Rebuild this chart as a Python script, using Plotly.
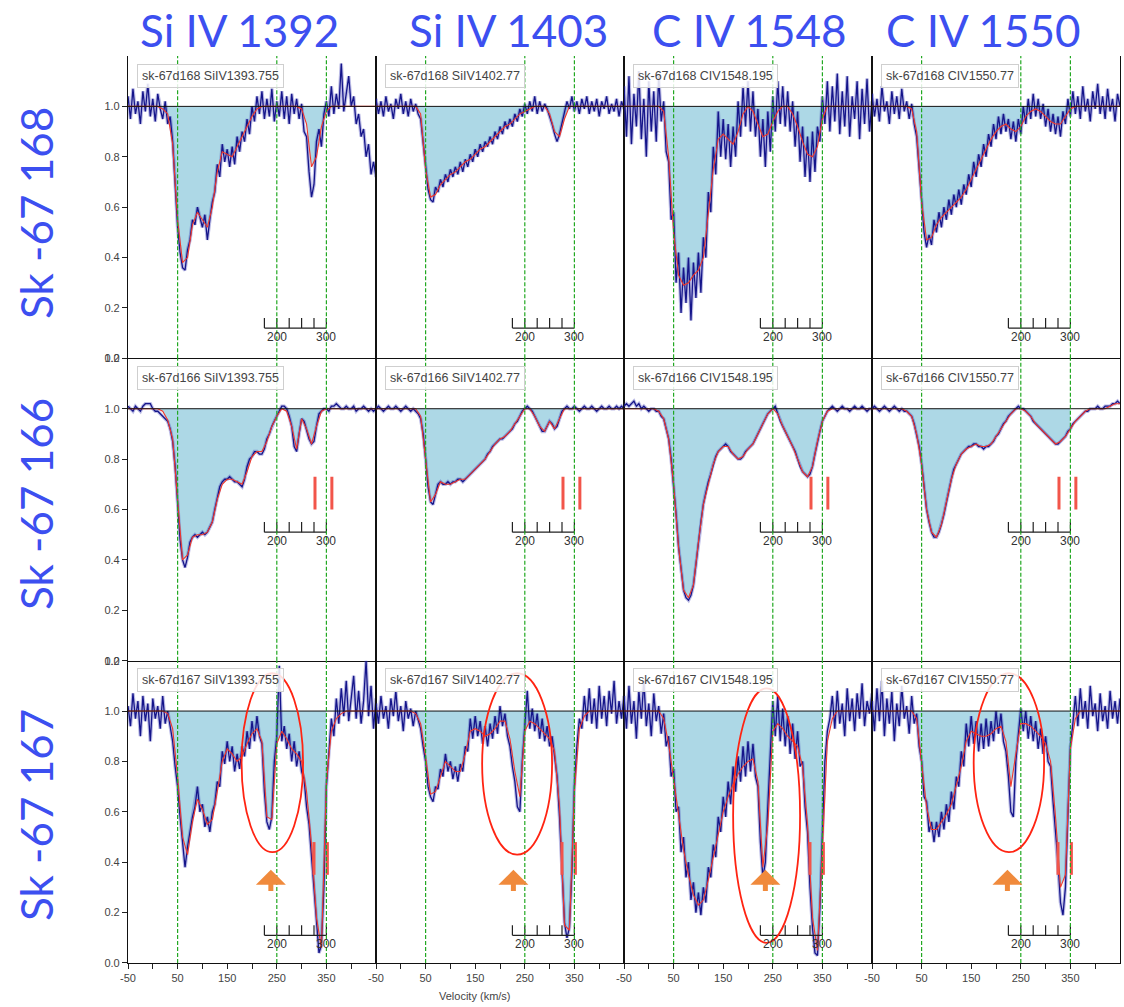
import plotly.graph_objects as go
from plotly.subplots import make_subplots

# ---------------------------------------------------------------- grids (km/s)
V_DATA = list(range(-50, 451, 5))     # observed pixels
V_MODEL = list(range(-50, 451, 10))   # fitted profile

LINE_TITLES = ["Si IV 1392", "Si IV 1403", "C IV 1548", "C IV 1550"]
LINE_IDS = ["SiIV1393.755", "SiIV1402.77", "CIV1548.195", "CIV1550.77"]
STAR_LABELS = ["Sk -67 168", "Sk -67 166", "Sk -67 167"]
STAR_IDS = ["sk-67d168", "sk-67d166", "sk-67d167"]

# ------------------------------------------------ Sk -67 168 normalised flux
sk168_si1393_flux = [
    1.04, 0.95, 1.07, 0.97, 1.02, 0.93, 1.06, 0.98, 1.09, 0.96,
    1.03, 0.94, 1.05, 0.99, 0.95, 1.02, 0.93, 0.96, 0.86, 0.70,
    0.52, 0.42, 0.36, 0.35, 0.43, 0.47, 0.55, 0.53, 0.60, 0.56,
    0.52, 0.57, 0.47, 0.55, 0.62, 0.66, 0.77, 0.72, 0.85, 0.78,
    0.83, 0.76, 0.84, 0.77, 0.88, 0.82, 0.90, 0.86, 0.95, 0.89,
    1.00, 0.94, 1.04, 0.97, 1.06, 0.95, 1.03, 0.96, 1.07, 0.94,
    1.02, 0.96, 1.06, 0.95, 1.04, 0.93, 1.05, 0.97, 1.03, 0.95,
    1.01, 0.90, 0.88, 0.74, 0.64, 0.69, 0.86, 0.91, 0.84, 0.97,
    1.02, 0.96, 1.08, 0.97, 1.05, 0.99, 1.17, 0.98, 1.06, 1.12,
    1.00, 1.04, 0.93, 0.97, 0.88, 0.91, 0.80, 0.85, 0.73, 0.78,
    0.72]
sk168_si1403_flux = [
    1.03, 0.97, 1.02, 0.96, 1.04, 0.98, 1.01, 0.95, 1.03, 0.99,
    1.05, 0.97, 1.02, 0.96, 1.03, 0.98, 1.01, 0.97, 0.95, 0.86,
    0.76, 0.67, 0.63, 0.62, 0.68, 0.66, 0.71, 0.68, 0.73, 0.70,
    0.75, 0.72, 0.76, 0.73, 0.78, 0.74, 0.79, 0.76, 0.81, 0.78,
    0.83, 0.80, 0.85, 0.82, 0.86, 0.84, 0.88, 0.85, 0.90, 0.87,
    0.92, 0.89, 0.94, 0.91, 0.95, 0.92, 0.97, 0.94, 0.99, 0.96,
    1.01, 0.97, 1.02, 0.98, 1.04, 0.97, 1.02, 0.98, 1.01, 0.99,
    0.96, 0.93, 0.89, 0.86, 0.89, 0.93, 0.97, 1.02, 0.99, 1.04,
    0.98, 1.02, 0.97, 1.03, 0.99, 1.04, 0.97, 1.02, 0.98, 1.03,
    0.96, 1.02, 0.99, 1.04, 0.97, 1.01, 0.98, 1.03, 0.96, 1.02,
    0.99]
sk168_c1548_flux = [
    1.08, 0.88, 1.12, 0.85, 1.05, 0.92, 1.14, 0.87, 1.03, 0.80,
    1.10, 0.90, 1.06, 0.86, 1.12, 0.94, 1.02, 0.82, 0.78, 0.55,
    0.58, 0.30, 0.42, 0.18, 0.36, 0.22, 0.40, 0.15, 0.38, 0.24,
    0.42, 0.26, 0.48, 0.40, 0.66, 0.58, 0.84, 0.73, 0.98, 0.80,
    0.95, 0.79, 0.93, 0.76, 0.92, 0.80, 1.02, 0.88, 1.08, 0.92,
    1.10, 0.90, 1.06, 0.88, 0.99, 0.80, 0.95, 0.76, 0.98, 0.82,
    1.04, 0.90, 1.10, 0.93, 1.08, 0.92, 1.06, 0.90, 1.02, 0.84,
    0.98, 0.78, 0.92, 0.72, 0.88, 0.70, 0.90, 0.74, 0.92, 0.86,
    1.04, 0.93, 1.10, 0.90, 1.08, 0.94, 1.13, 0.89, 1.06, 0.92,
    1.12, 0.88, 1.04, 0.95, 1.10, 0.87, 1.07, 0.93, 1.11, 0.90,
    1.02]
sk168_c1550_flux = [
    1.05, 0.96, 1.03, 0.94, 1.08, 0.98, 1.02, 0.93, 1.06, 0.97,
    1.04, 0.95, 1.07, 0.98, 1.02, 0.95, 1.01, 0.93, 0.88, 0.74,
    0.62, 0.50, 0.44, 0.49, 0.45, 0.55, 0.50, 0.58, 0.52, 0.60,
    0.55, 0.63, 0.57, 0.65, 0.60, 0.67, 0.61, 0.69, 0.65, 0.73,
    0.68, 0.78, 0.72, 0.81, 0.76, 0.85, 0.80, 0.89, 0.84, 0.93,
    0.87, 0.96, 0.89, 0.97, 0.90, 0.95, 0.87, 0.94, 0.86, 0.95,
    0.89, 1.00, 0.93, 1.03, 0.95, 1.05, 0.96, 1.03, 0.95, 1.01,
    0.92, 0.99, 0.90, 0.97, 0.89, 0.96, 0.88, 0.98, 0.93, 1.03,
    0.96, 1.06, 0.97, 1.04, 0.95, 1.08, 0.98, 1.03, 0.94, 1.06,
    0.99, 1.09, 0.97, 1.04, 0.95, 1.07, 0.98, 1.03, 0.94, 1.05,
    1.00]

# ------------------------------------------------ Sk -67 166 normalised flux
sk166_si1393_flux = [
    1.01, 1.00, 0.99, 1.01, 1.00, 0.99, 1.01, 1.02, 1.02, 1.02,
    1.00, 0.99, 0.99, 0.98, 0.97, 0.96, 0.95, 0.92, 0.87, 0.77,
    0.62, 0.48, 0.40, 0.37, 0.41, 0.47, 0.49, 0.50, 0.49, 0.50,
    0.51, 0.50, 0.51, 0.53, 0.55, 0.60, 0.65, 0.69, 0.71, 0.72,
    0.72, 0.73, 0.72, 0.71, 0.71, 0.70, 0.69, 0.72, 0.77, 0.80,
    0.81, 0.83, 0.83, 0.82, 0.82, 0.84, 0.88, 0.90, 0.93, 0.95,
    0.97, 0.99, 1.01, 1.01, 1.00, 0.97, 0.93, 0.85, 0.83, 0.90,
    0.96, 0.95, 0.91, 0.88, 0.86, 0.87, 0.93, 0.98, 0.99, 1.00,
    1.00, 0.99, 1.01, 1.01, 1.02, 1.01, 1.00, 1.00, 1.01, 1.00,
    1.00, 1.01, 0.99, 1.00, 1.00, 1.01, 1.00, 0.99, 1.00, 0.99,
    1.00]
sk166_si1403_flux = [
    1.00, 1.01, 1.00, 0.99, 1.00, 1.01, 1.00, 1.00, 1.01, 1.00,
    0.99, 1.00, 1.01, 1.00, 0.99, 1.00, 0.99, 0.98, 0.96, 0.90,
    0.80, 0.69, 0.63, 0.62, 0.66, 0.70, 0.71, 0.70, 0.70, 0.71,
    0.70, 0.71, 0.71, 0.72, 0.72, 0.71, 0.72, 0.73, 0.74, 0.75,
    0.76, 0.77, 0.78, 0.79, 0.80, 0.82, 0.83, 0.85, 0.86, 0.87,
    0.88, 0.88, 0.89, 0.90, 0.91, 0.92, 0.94, 0.95, 0.97, 0.99,
    1.00, 1.01, 1.00, 0.99, 0.97, 0.95, 0.93, 0.91, 0.91, 0.93,
    0.95, 0.94, 0.92, 0.93, 0.96, 0.99, 1.00, 1.01, 1.00, 1.00,
    1.01, 1.00, 0.99, 1.00, 1.01, 1.00, 1.00, 1.01, 1.00, 0.99,
    1.00, 1.01, 1.00, 1.00, 1.01, 1.00, 1.00, 1.01, 1.00, 1.01,
    1.00]
sk166_c1548_flux = [
    1.01, 1.02, 1.01, 1.02, 1.03, 1.01, 1.02, 1.00, 1.01, 1.00,
    0.99, 1.00, 1.00, 0.99, 0.99, 0.97, 0.96, 0.92, 0.88, 0.80,
    0.70, 0.58, 0.45, 0.35, 0.28, 0.25, 0.24, 0.26, 0.30, 0.38,
    0.47, 0.55, 0.62, 0.67, 0.71, 0.74, 0.78, 0.81, 0.83, 0.84,
    0.85, 0.86, 0.85, 0.83, 0.82, 0.81, 0.80, 0.80, 0.81, 0.83,
    0.84, 0.85, 0.86, 0.88, 0.90, 0.92, 0.94, 0.96, 0.98, 0.99,
    1.00, 1.01, 0.98, 0.95, 0.93, 0.91, 0.89, 0.87, 0.85, 0.83,
    0.80, 0.77, 0.75, 0.74, 0.73, 0.74, 0.77, 0.82, 0.87, 0.91,
    0.95, 0.97, 0.99, 1.00, 1.01, 1.00, 0.99, 1.00, 1.01, 1.00,
    1.00, 0.99, 1.00, 1.01, 1.00, 1.00, 1.01, 1.00, 0.99, 1.00,
    1.00]
sk166_c1550_flux = [
    1.00, 1.01, 1.00, 0.99, 1.00, 1.01, 1.00, 0.99, 1.00, 1.01,
    1.00, 0.99, 1.00, 0.99, 0.99, 0.98, 0.97, 0.94, 0.90, 0.85,
    0.78, 0.69, 0.60, 0.55, 0.51, 0.49, 0.49, 0.51, 0.54, 0.58,
    0.63, 0.68, 0.72, 0.76, 0.78, 0.80, 0.82, 0.83, 0.84, 0.85,
    0.85, 0.86, 0.86, 0.85, 0.85, 0.84, 0.85, 0.85, 0.86, 0.87,
    0.89, 0.90, 0.92, 0.94, 0.95, 0.97, 0.98, 0.99, 1.00, 1.01,
    1.00, 1.00, 0.99, 0.98, 0.97, 0.95, 0.94, 0.93, 0.92, 0.91,
    0.90, 0.89, 0.88, 0.87, 0.86, 0.86, 0.87, 0.88, 0.89, 0.91,
    0.92, 0.94, 0.95, 0.96, 0.97, 0.98, 0.99, 0.99, 1.00, 1.00,
    1.00, 1.01, 1.00, 1.00, 1.01, 1.01, 1.01, 1.02, 1.02, 1.03,
    1.02]

# ------------------------------------------------ Sk -67 167 normalised flux
sk167_si1393_flux = [
    1.02, 0.94, 1.07, 0.97, 1.04, 0.90, 1.06, 0.96, 1.03, 0.88,
    1.05, 0.97, 1.02, 0.93, 1.06, 0.95, 1.00, 0.93, 0.88, 0.78,
    0.70, 0.58, 0.48, 0.38, 0.46, 0.52, 0.58, 0.62, 0.70, 0.60,
    0.63, 0.54, 0.58, 0.52, 0.60, 0.63, 0.72, 0.70, 0.84, 0.79,
    0.88, 0.80, 0.86, 0.76, 0.83, 0.77, 0.86, 0.82, 0.92, 0.85,
    0.96, 0.88, 0.98, 0.90, 0.87, 0.68, 0.56, 0.53, 0.58, 0.80,
    0.90, 1.18, 0.88, 0.94, 0.85, 0.91, 0.80, 0.88, 0.78, 0.84,
    0.76, 0.73, 0.62, 0.55, 0.42, 0.30, 0.14, 0.04, 0.07, 0.30,
    0.70, 0.85, 0.97, 0.90, 1.05, 0.95, 1.09, 0.98, 1.12, 0.96,
    1.06, 1.14, 0.97, 1.08, 0.95, 1.04, 1.20, 0.98, 1.10, 0.93,
    1.05]
sk167_si1403_flux = [
    1.03, 0.95, 1.06, 0.97, 1.02, 0.93, 1.05, 0.98, 1.08, 0.96,
    1.02, 0.92, 1.04, 0.97, 1.01, 0.94, 1.00, 0.96, 0.93, 0.86,
    0.80, 0.70, 0.66, 0.64, 0.70, 0.69, 0.77, 0.74, 0.83, 0.76,
    0.80, 0.73, 0.78, 0.72, 0.79, 0.76, 0.86, 0.84, 0.97, 0.89,
    0.98, 0.90, 0.96, 0.87, 0.94, 0.86, 0.95, 0.89, 0.98, 0.91,
    1.02, 0.94, 0.99, 0.90, 0.86, 0.78, 0.72, 0.62, 0.60, 0.80,
    0.95, 1.08, 0.93, 1.01, 0.92, 0.99, 0.89, 0.97, 0.88, 0.94,
    0.86, 0.90, 0.82, 0.74, 0.58, 0.38, 0.16, 0.10, 0.14, 0.36,
    0.70, 0.86, 0.97, 0.93, 1.06, 0.96, 1.09, 0.95, 1.05, 0.93,
    1.10, 0.97, 1.06, 0.94, 1.08, 0.99, 1.12, 0.95, 1.04, 0.97,
    1.06]
sk167_c1548_flux = [
    1.06, 0.93, 1.10, 0.95, 1.04, 0.89, 1.08, 0.97, 1.12, 0.94,
    1.03, 0.90, 1.07, 0.96, 1.02, 0.91, 0.99, 0.86, 0.90, 0.74,
    0.77, 0.60, 0.62, 0.44, 0.50, 0.34, 0.40, 0.25, 0.32, 0.20,
    0.28, 0.19, 0.30, 0.24, 0.38, 0.34, 0.47, 0.42, 0.58, 0.52,
    0.66, 0.58, 0.72, 0.63, 0.78, 0.68, 0.82, 0.72, 0.86, 0.74,
    0.88, 0.76, 0.87, 0.74, 0.70, 0.48, 0.34, 0.40, 0.62, 0.85,
    1.04, 0.90, 1.06, 0.88, 1.01, 0.86, 0.98, 0.83, 0.95, 0.81,
    0.92, 0.78, 0.80, 0.62, 0.52, 0.30, 0.14, 0.04, 0.03, 0.22,
    0.52, 0.80, 0.92, 0.97, 1.06, 0.93, 1.08, 0.95, 1.03, 0.90,
    1.09, 0.96, 1.05, 0.92, 1.07, 0.97, 1.11, 0.94, 1.04, 0.99,
    1.07]
sk167_c1550_flux = [
    1.04, 0.92, 1.09, 0.96, 1.12, 0.90, 1.05, 0.95, 1.08, 0.88,
    1.03, 0.94, 1.10, 0.97, 1.02, 0.91, 1.06, 0.95, 0.99, 0.86,
    0.80, 0.66, 0.64, 0.52, 0.56, 0.48, 0.56, 0.50, 0.60, 0.53,
    0.63, 0.56, 0.68, 0.61, 0.74, 0.70, 0.84, 0.78, 0.95, 0.86,
    0.98, 0.87, 0.96, 0.84, 0.95, 0.85, 0.97, 0.86, 0.96, 0.88,
    1.00, 0.91, 0.99, 0.88, 0.84, 0.74, 0.60, 0.58, 0.80, 0.90,
    1.01, 0.92, 1.00, 0.89, 0.98, 0.88, 0.96, 0.85, 0.93, 0.83,
    0.90, 0.80, 0.78, 0.64, 0.52, 0.40, 0.24, 0.19, 0.30, 0.60,
    0.86, 0.95, 1.06, 0.94, 1.09, 0.97, 1.04, 0.93, 1.10, 0.98,
    1.03, 0.92, 1.07, 0.96, 1.02, 0.93, 1.08, 0.97, 1.04, 0.95,
    1.05]

# ------------------------------------------------ fitted profiles (10 km/s)
sk168_si1393_model = [
    1.00, 1.00, 1.00, 1.00, 1.00, 1.00, 1.00, 0.99, 0.97, 0.85,
    0.55, 0.38, 0.40, 0.53, 0.58, 0.55, 0.52, 0.60, 0.74, 0.82,
    0.81, 0.80, 0.84, 0.88, 0.92, 0.96, 0.99, 1.00, 1.00, 1.00,
    1.00, 1.00, 1.00, 1.00, 1.00, 0.99, 0.93, 0.76, 0.80, 0.92,
    0.98, 1.00, 1.00, 1.00, 1.00, 1.00, 1.00, 1.00, 1.00, 1.00,
    1.00]
sk168_si1403_model = [
    1.00, 1.00, 1.00, 1.00, 1.00, 1.00, 1.00, 1.00, 1.00, 0.97,
    0.75, 0.64, 0.65, 0.69, 0.71, 0.73, 0.74, 0.76, 0.78, 0.79,
    0.81, 0.83, 0.84, 0.86, 0.88, 0.90, 0.92, 0.93, 0.95, 0.97,
    0.98, 0.99, 1.00, 1.00, 1.00, 0.97, 0.90, 0.88, 0.95, 1.00,
    1.00, 1.00, 1.00, 1.00, 1.00, 1.00, 1.00, 1.00, 1.00, 1.00,
    1.00]
sk168_c1548_model = [
    1.00, 1.00, 1.00, 1.00, 1.00, 1.00, 1.00, 1.00, 0.98, 0.80,
    0.50, 0.33, 0.29, 0.30, 0.33, 0.35, 0.40, 0.57, 0.75, 0.87,
    0.89, 0.87, 0.85, 0.90, 0.97, 1.00, 0.98, 0.93, 0.88, 0.89,
    0.94, 0.98, 1.00, 1.00, 0.97, 0.92, 0.86, 0.81, 0.80, 0.84,
    0.95, 1.00, 1.00, 1.00, 1.00, 1.00, 1.00, 1.00, 1.00, 1.00,
    1.00]
sk168_c1550_model = [
    1.00, 1.00, 1.00, 1.00, 1.00, 1.00, 1.00, 1.00, 0.99, 0.90,
    0.62, 0.47, 0.48, 0.53, 0.56, 0.58, 0.60, 0.62, 0.64, 0.67,
    0.71, 0.75, 0.79, 0.83, 0.87, 0.90, 0.92, 0.93, 0.91, 0.90,
    0.92, 0.96, 0.98, 0.99, 0.98, 0.96, 0.94, 0.93, 0.93, 0.96,
    0.99, 1.00, 1.00, 1.00, 1.00, 1.00, 1.00, 1.00, 1.00, 1.00,
    1.00]
sk166_si1393_model = [
    1.00, 1.00, 1.00, 1.00, 1.00, 1.00, 1.00, 0.99, 0.955, 0.88,
    0.63, 0.40, 0.42, 0.49, 0.50, 0.50, 0.51, 0.55, 0.64, 0.70,
    0.72, 0.72, 0.71, 0.70, 0.75, 0.81, 0.83, 0.83, 0.87, 0.93,
    0.97, 1.00, 0.99, 0.93, 0.84, 0.96, 0.92, 0.86, 0.93, 0.99,
    1.00, 1.00, 1.00, 1.00, 1.00, 1.00, 1.00, 1.00, 1.00, 1.00,
    1.00]
sk166_si1403_model = [
    1.00, 1.00, 1.00, 1.00, 1.00, 1.00, 1.00, 1.00, 1.00, 0.97,
    0.80, 0.63, 0.66, 0.71, 0.70, 0.70, 0.71, 0.72, 0.72, 0.74,
    0.76, 0.78, 0.80, 0.83, 0.86, 0.88, 0.89, 0.91, 0.94, 0.97,
    1.00, 1.00, 0.97, 0.93, 0.91, 0.95, 0.92, 0.96, 1.00, 1.00,
    1.00, 1.00, 1.00, 1.00, 1.00, 1.00, 1.00, 1.00, 1.00, 1.00,
    1.00]
sk166_c1548_model = [
    1.00, 1.00, 1.00, 1.00, 1.00, 1.00, 1.00, 0.99, 0.96, 0.88,
    0.70, 0.45, 0.28, 0.25, 0.30, 0.47, 0.62, 0.70, 0.78, 0.83,
    0.85, 0.85, 0.82, 0.80, 0.81, 0.84, 0.86, 0.90, 0.94, 0.98,
    1.00, 0.98, 0.93, 0.89, 0.85, 0.80, 0.75, 0.73, 0.77, 0.87,
    0.95, 0.99, 1.00, 1.00, 1.00, 1.00, 1.00, 1.00, 1.00, 1.00,
    1.00]
sk166_c1550_model = [
    1.00, 1.00, 1.00, 1.00, 1.00, 1.00, 1.00, 0.99, 0.97, 0.90,
    0.78, 0.60, 0.51, 0.49, 0.54, 0.63, 0.72, 0.78, 0.82, 0.84,
    0.85, 0.86, 0.85, 0.85, 0.86, 0.89, 0.92, 0.95, 0.98, 1.00,
    1.00, 0.99, 0.97, 0.94, 0.92, 0.90, 0.88, 0.86, 0.87, 0.89,
    0.92, 0.95, 0.97, 0.99, 1.00, 1.00, 1.00, 1.00, 1.01, 1.02,
    1.02]
sk167_si1393_model = [
    1.00, 1.00, 1.00, 1.00, 1.00, 1.00, 1.00, 1.00, 0.99, 0.93,
    0.74, 0.50, 0.43, 0.56, 0.65, 0.61, 0.55, 0.57, 0.68, 0.80,
    0.85, 0.83, 0.80, 0.82, 0.87, 0.91, 0.93, 0.88, 0.58, 0.57,
    0.87, 0.92, 0.89, 0.85, 0.83, 0.80, 0.68, 0.47, 0.18, 0.06,
    0.72, 0.92, 0.97, 0.99, 1.00, 1.00, 1.00, 1.00, 1.00, 1.00,
    1.00]
sk167_si1403_model = [
    1.00, 1.00, 1.00, 1.00, 1.00, 1.00, 1.00, 1.00, 0.99, 0.95,
    0.82, 0.67, 0.68, 0.74, 0.80, 0.78, 0.76, 0.76, 0.83, 0.92,
    0.93, 0.92, 0.90, 0.91, 0.93, 0.96, 0.96, 0.89, 0.76, 0.66,
    0.92, 0.96, 0.95, 0.93, 0.91, 0.89, 0.84, 0.62, 0.15, 0.13,
    0.68, 0.93, 0.98, 1.00, 1.00, 1.00, 1.00, 1.00, 1.00, 1.00,
    1.00]
sk167_c1548_model = [
    1.00, 1.00, 1.00, 1.00, 1.00, 1.00, 1.00, 1.00, 0.97, 0.87,
    0.73, 0.58, 0.45, 0.35, 0.27, 0.23, 0.25, 0.33, 0.42, 0.52,
    0.60, 0.66, 0.71, 0.75, 0.78, 0.80, 0.81, 0.72, 0.38, 0.55,
    0.92, 0.95, 0.93, 0.90, 0.88, 0.86, 0.78, 0.55, 0.18, 0.05,
    0.45, 0.88, 0.97, 1.00, 1.00, 1.00, 1.00, 1.00, 1.00, 1.00,
    1.00]
sk167_c1550_model = [
    1.00, 1.00, 1.00, 1.00, 1.00, 1.00, 1.00, 1.00, 1.00, 0.97,
    0.80, 0.62, 0.53, 0.53, 0.56, 0.59, 0.63, 0.70, 0.78, 0.88,
    0.92, 0.91, 0.90, 0.90, 0.91, 0.93, 0.94, 0.88, 0.70, 0.83,
    0.95, 0.95, 0.94, 0.92, 0.90, 0.87, 0.80, 0.58, 0.30, 0.35,
    0.85, 0.97, 1.00, 1.00, 1.00, 1.00, 1.00, 1.00, 1.00, 1.00,
    1.00]

FLUX = [
    [sk168_si1393_flux, sk168_si1403_flux, sk168_c1548_flux, sk168_c1550_flux],
    [sk166_si1393_flux, sk166_si1403_flux, sk166_c1548_flux, sk166_c1550_flux],
    [sk167_si1393_flux, sk167_si1403_flux, sk167_c1548_flux, sk167_c1550_flux],
]
MODEL = [
    [sk168_si1393_model, sk168_si1403_model, sk168_c1548_model, sk168_c1550_model],
    [sk166_si1393_model, sk166_si1403_model, sk166_c1548_model, sk166_c1550_model],
    [sk167_si1393_model, sk167_si1403_model, sk167_c1548_model, sk167_c1550_model],
]

CONTINUUM = 1.0
INTEGRATION_WINDOW = (0, 350)          # shaded absorption range (km/s)
REFERENCE_VELOCITIES = [50, 250, 350]  # dashed guide lines (km/s)

# component markers (km/s) and their vertical extent, per star row
COMPONENT_V = {1: [327, 361], 2: [325, 352]}
COMPONENT_Y = {1: (0.60, 0.73), 2: (0.35, 0.48)}

# secondary velocity scale drawn inside each panel
INSET_TICKS = [175, 200, 225, 250, 275, 300]
INSET_LABELS = [200, 300]
INSET_SHIFT = 50
INSET_LEVEL = [0.12, 0.51, 0.11]

# highlighted narrow component in Sk -67 167 (velocity span, flux span, arrow)
HILITE_V = [(179, 303), (164, 305), (170, 305), (155, 297)]
HILITE_Y = [(0.44, 1.15), (0.43, 1.15), (0.08, 1.09), (0.44, 1.15)]
ARROW_V = [238, 227, 235, 223]
ARROW_Y = (0.28, 0.37)

X_TICKS = [-50, 0, 50, 100, 150, 200, 250, 300, 350, 400]
X_TICK_TEXT = ["-50", "", "50", "", "150", "", "250", "", "350", ""]

# ---------------------------------------------------------------- layout
W, H = 1124, 1007
ML, MR, MT, MB = 128, 4, 56, 44
PW, PH = W - ML - MR, H - MT - MB

TITLE_BLUE = "#3c4ff0"
DATA_BLUE = "#15158a"
FIT_RED = "#f0382c"
FILL_BLUE = "#add8e6"
GUIDE_GREEN = "#22a822"
TICK_FONT = dict(family="Liberation Sans, Arial, sans-serif", size=11, color="#444")


def paper(px, py):
    return (px - ML) / PW, (H - MB - py) / PH


def axis_suffix(r, c):
    i = r * 4 + c + 1
    return "" if i == 1 else str(i)


fig = make_subplots(rows=3, cols=4, horizontal_spacing=0, vertical_spacing=0)

shapes = []
annotations = []

for r in range(3):
    for c in range(4):
        flux = FLUX[r][c]
        model = MODEL[r][c]
        s = axis_suffix(r, c)
        row, col = r + 1, c + 1

        lo, hi = INTEGRATION_WINDOW
        win_v = [v for v in V_MODEL if lo <= v <= hi]
        win_m = [m for v, m in zip(V_MODEL, model) if lo <= v <= hi]

        # shaded absorption between continuum and fit
        fig.add_trace(go.Scatter(x=win_v, y=[CONTINUUM] * len(win_v), mode="lines",
                                 line=dict(width=0), hoverinfo="skip", showlegend=False),
                      row=row, col=col)
        fig.add_trace(go.Scatter(x=win_v, y=win_m, mode="lines", line=dict(width=0),
                                 fill="tonexty", fillcolor=FILL_BLUE,
                                 hoverinfo="skip", showlegend=False),
                      row=row, col=col)

        # observed spectrum (soft halo + core line)
        fig.add_trace(go.Scatter(x=V_DATA, y=flux, mode="lines",
                                 line=dict(color="rgba(60,60,180,0.35)", width=3.5),
                                 hoverinfo="skip", showlegend=False),
                      row=row, col=col)
        fig.add_trace(go.Scatter(x=V_DATA, y=flux, mode="lines",
                                 line=dict(color=DATA_BLUE, width=1.3),
                                 showlegend=False),
                      row=row, col=col)
        # fitted profile
        fig.add_trace(go.Scatter(x=V_MODEL, y=model, mode="lines",
                                 line=dict(color=FIT_RED, width=1.1),
                                 showlegend=False),
                      row=row, col=col)

        # inset velocity scale
        lvl = INSET_LEVEL[r]
        sx = [INSET_TICKS[0] + INSET_SHIFT, INSET_TICKS[-1] + INSET_SHIFT, None]
        sy = [lvl, lvl, None]
        for t in INSET_TICKS:
            sx += [t + INSET_SHIFT, t + INSET_SHIFT, None]
            sy += [lvl, lvl + 0.04, None]
        fig.add_trace(go.Scatter(x=sx, y=sy, mode="lines",
                                 line=dict(color="#222", width=1.2),
                                 hoverinfo="skip", showlegend=False),
                      row=row, col=col)
        for t in INSET_LABELS:
            annotations.append(dict(x=t + INSET_SHIFT, y=lvl - 0.035, xref="x" + s, yref="y" + s,
                                    text=str(t), showarrow=False,
                                    font=dict(family="Liberation Sans, Arial", size=12, color="#333"),
                                    xanchor="center", yanchor="middle"))

        # component markers
        if r in COMPONENT_V:
            y0, y1 = COMPONENT_Y[r]
            mx, my = [], []
            for v in COMPONENT_V[r]:
                mx += [v, v, None]
                my += [y0, y1, None]
            fig.add_trace(go.Scatter(x=mx, y=my, mode="lines",
                                     line=dict(color="#f2554a", width=3),
                                     hoverinfo="skip", showlegend=False),
                          row=row, col=col)

        # continuum level
        shapes.append(dict(type="line", xref="x" + s + " domain", yref="y" + s,
                           x0=0, x1=1, y0=CONTINUUM, y1=CONTINUUM,
                           line=dict(color="#111", width=1)))
        # reference velocities
        for v in REFERENCE_VELOCITIES:
            shapes.append(dict(type="line", xref="x" + s, yref="y" + s + " domain",
                               x0=v, x1=v, y0=0, y1=1,
                               line=dict(color=GUIDE_GREEN, width=1.2, dash="4px,2px")))

        # panel label box
        annotations.append(dict(x=0.036, y=0.975, xref="x" + s + " domain", yref="y" + s + " domain",
                                text=f"{STAR_IDS[r]} {LINE_IDS[c]}", showarrow=False,
                                xanchor="left", yanchor="top",
                                font=dict(family="Liberation Sans, Arial", size=12.5, color="#444"),
                                bgcolor="rgba(255,255,255,0.85)", bordercolor="#cfcfcf",
                                borderwidth=1, borderpad=4))

        # highlighted narrow component on the bottom row
        if r == 2:
            (v0, v1), (f0, f1) = HILITE_V[c], HILITE_Y[c]
            shapes.append(dict(type="circle", xref="x" + s, yref="y" + s,
                               x0=v0, x1=v1, y0=f0, y1=f1,
                               line=dict(color="#ff2412", width=1.8)))
            annotations.append(dict(x=ARROW_V[c], y=ARROW_Y[1], ax=ARROW_V[c], ay=ARROW_Y[0],
                                    xref="x" + s, yref="y" + s, axref="x" + s, ayref="y" + s,
                                    text="", showarrow=True, arrowhead=1, arrowsize=1,
                                    arrowwidth=5, arrowcolor="#f08a3c"))

        # axes
        xa = dict(range=[-50, 450], showgrid=False, zeroline=False, showline=True,
                  linecolor="#111", linewidth=1.2)
        if r == 2:
            xa.update(tickmode="array", tickvals=X_TICKS, ticktext=X_TICK_TEXT,
                      ticks="outside", ticklen=5, tickcolor="#222", tickfont=TICK_FONT)
        else:
            xa.update(showticklabels=False, ticks="")
        fig.update_xaxes(xa, row=row, col=col)

        ya = dict(range=[0, 1.2], showgrid=False, zeroline=False, showline=True,
                  mirror=True, linecolor="#111", linewidth=1.2)
        if c == 0:
            yv = [0.0, 0.2, 0.4, 0.6, 0.8, 1.0] + ([1.2] if r > 0 else [])
            ya.update(tickmode="array", tickvals=yv, ticktext=[f"{v:.1f}" for v in yv],
                      ticks="outside", ticklen=5, tickcolor="#222", tickfont=TICK_FONT)
        else:
            ya.update(showticklabels=False, ticks="")
        fig.update_yaxes(ya, row=row, col=col)

# column headings
TITLE_X = [239, 508, 749, 983]
for t, px in zip(LINE_TITLES, TITLE_X):
    x, y = paper(px, 30)
    annotations.append(dict(x=x, y=y, xref="paper", yref="paper", text=t, showarrow=False,
                            xanchor="center", yanchor="middle",
                            font=dict(family="Lato, Open Sans, sans-serif", size=44, color=TITLE_BLUE)))

# star labels
ROW_Y = [213, 504, 815]
for t, py in zip(STAR_LABELS, ROW_Y):
    x, y = paper(36, py)
    annotations.append(dict(x=x, y=y, xref="paper", yref="paper", text=t, showarrow=False,
                            textangle=-90, xanchor="center", yanchor="middle",
                            font=dict(family="Lato, Open Sans, sans-serif", size=44, color=TITLE_BLUE)))

# axis title
x, y = paper(475, 996)
annotations.append(dict(x=x, y=y, xref="paper", yref="paper", text="Velocity (km/s)",
                        showarrow=False, xanchor="center", yanchor="middle",
                        font=dict(family="Liberation Sans, Arial", size=11, color="#444")))

fig.update_layout(width=W, height=H, margin=dict(l=ML, r=MR, t=MT, b=MB),
                  paper_bgcolor="white", plot_bgcolor="white", showlegend=False,
                  shapes=shapes, annotations=annotations)

fig.write_html("out.html")
